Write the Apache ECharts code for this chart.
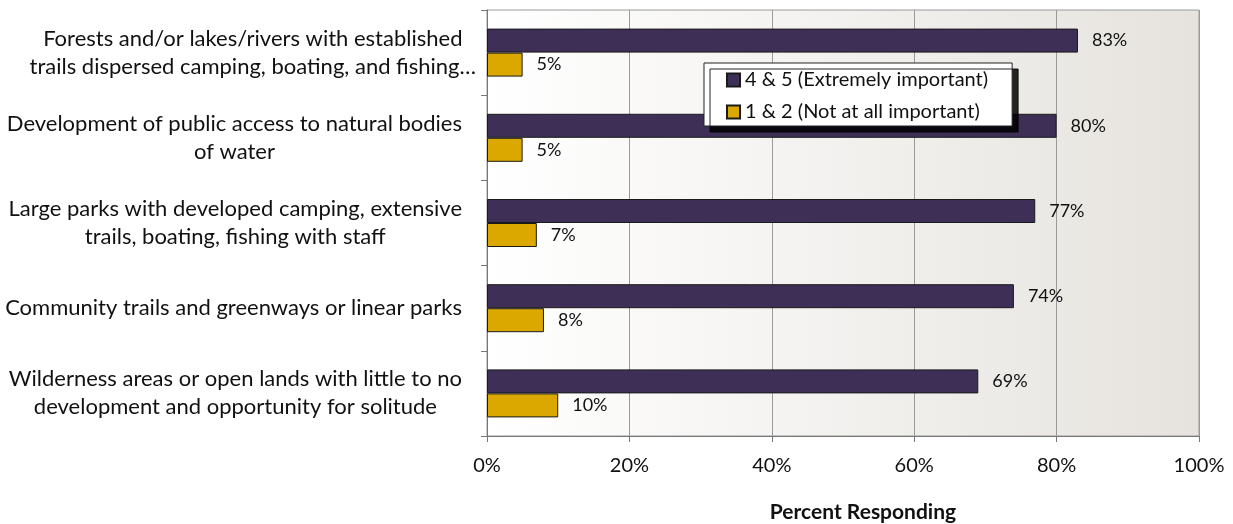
<!DOCTYPE html>
<html>
<head>
<meta charset="utf-8">
<script src="https://cdn.jsdelivr.net/npm/echarts@6/dist/echarts.min.js"></script>
<style>
html,body{margin:0;padding:0;background:#fff;}
#chart{width:1233px;height:524px;}
</style>
</head>
<body>
<div id="chart"></div>
<script>
const categories = [
  "Forests and/or lakes/rivers with established\ntrails dispersed camping, boating, and fishing…",
  "Development of public access to natural bodies\nof water",
  "Large parks with developed camping, extensive\ntrails, boating, fishing with staff",
  "Community trails and greenways or linear parks",
  "Wilderness areas or open lands with little to no\ndevelopment and opportunity for solitude"
];
const seriesNames = ["4 & 5 (Extremely important)", "1 & 2 (Not at all important)"];
const extremelyImportant = [83, 80, 77, 74, 69];
const notAtAllImportant = [5, 5, 7, 8, 10];
const xTicks = [0, 20, 40, 60, 80, 100];

const FONT = 'Lato, "Open Sans", sans-serif';
const chart = echarts.init(document.getElementById('chart'));

const labelStyle = {
  show: true,
  position: 'right',
  distance: 14,
  formatter: p => p.value + '%',
  fontFamily: FONT,
  fontSize: 18,
  color: '#111'
};

// first label overhangs toward the axis in the reference
const yData = categories.map((c, i) => i === 0
  ? { value: c, textStyle: { padding: [0, -14, 0, 0] } }
  : c);

chart.setOption({
  animation: false,
  textStyle: { fontFamily: FONT },
  grid: {
    left: 487, top: 10, width: 712, height: 426,
    outerBoundsMode: 'none',
    containLabel: false,
    show: true,
    borderColor: '#9a9a9a',
    borderWidth: 1,
    backgroundColor: new echarts.graphic.LinearGradient(0, 0, 1, 0, [
      { offset: 0, color: '#ffffff' },
      { offset: 1, color: '#e6e3de' }
    ])
  },
  legend: {
    orient: 'vertical',
    left: 704, top: 63,
    data: seriesNames,
    backgroundColor: '#ffffff',
    borderColor: '#222',
    borderWidth: 1,
    borderRadius: 0,
    padding: [7, 24, 4, 22],
    itemGap: 12,
    itemWidth: 13,
    itemHeight: 13,
    icon: 'rect',
    shadowColor: 'rgba(0,0,0,0.85)',
    shadowBlur: 0,
    shadowOffsetX: 6,
    shadowOffsetY: 6,
    textStyle: { fontFamily: FONT, fontSize: 20, color: '#111', padding: [0, 0, 0, 0] }
  },
  xAxis: {
    type: 'value',
    min: 0, max: 100, interval: 20,
    name: 'Percent Responding',
    nameLocation: 'middle',
    nameGap: 66,
    nameTextStyle: { fontFamily: FONT, fontSize: 21, fontWeight: 'bold', color: '#111', padding: [0, 0, 0, 40] },
    axisLine: { show: true, lineStyle: { color: '#777', width: 1 } },
    axisTick: { show: true, length: 6, lineStyle: { color: '#777' } },
    axisLabel: {
      margin: 20,
      fontFamily: FONT, fontSize: 20, color: '#111',
      formatter: v => xTicks.includes(v) ? v + '%' : ''
    },
    splitLine: { show: true, lineStyle: { color: '#9a9a9a', width: 1 } }
  },
  yAxis: {
    type: 'category',
    inverse: true,
    data: yData,
    axisLine: { show: true, lineStyle: { color: '#777', width: 1 } },
    axisTick: { show: true, length: 6, lineStyle: { color: '#777' } },
    axisLabel: {
      margin: 25,
      fontFamily: FONT, fontSize: 22, color: '#111',
      lineHeight: 28,
      formatter: v => v.split('\n').map(s => '{c|' + s + '}').join('\n'),
      rich: { c: { align: 'center', fontFamily: FONT, fontSize: 22, color: '#111', lineHeight: 28 } }
    },
    splitLine: { show: false }
  },
  series: [
    {
      name: seriesNames[0],
      type: 'bar',
      data: extremelyImportant,
      barWidth: 24,
      barGap: '0%',
      itemStyle: { color: '#3e2f56', borderColor: '#1a1a1a', borderWidth: 1 },
      label: labelStyle
    },
    {
      name: seriesNames[1],
      type: 'bar',
      data: notAtAllImportant,
      barWidth: 24,
      barGap: '0%',
      itemStyle: { color: '#dba800', borderColor: '#1a1a1a', borderWidth: 1 },
      label: labelStyle
    }
  ]
});
</script>
</body>
</html>
